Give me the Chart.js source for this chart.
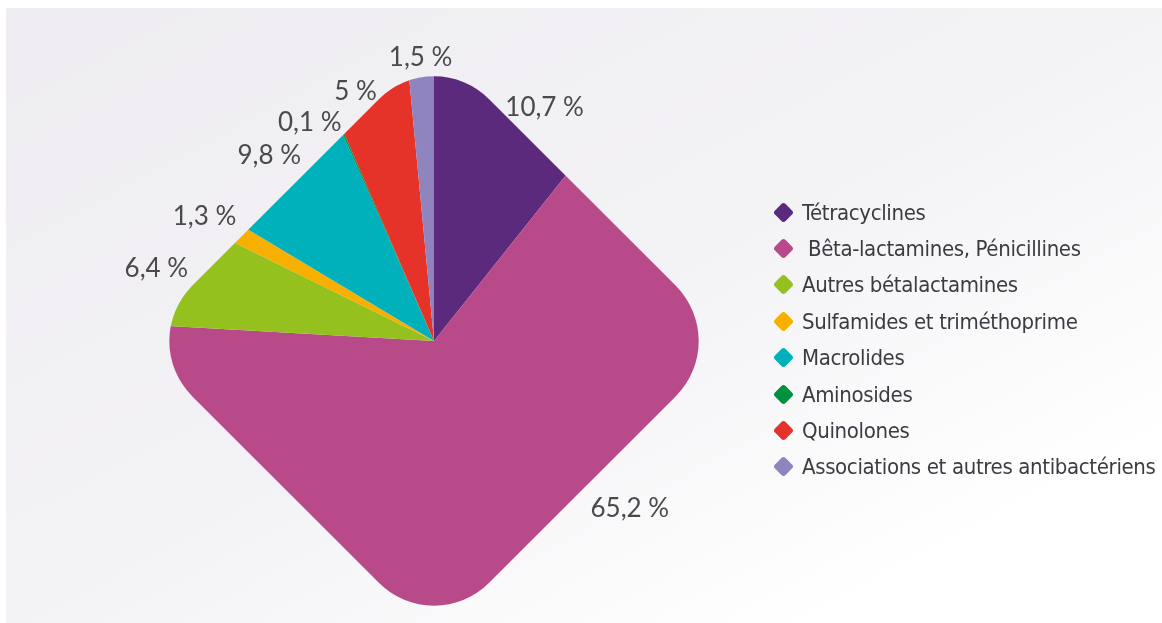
<!DOCTYPE html>
<html lang="fr">
<head>
<meta charset="utf-8">
<title>Antibiotiques par famille</title>
<script src="https://cdn.jsdelivr.net/npm/chart.js@4/dist/chart.umd.min.js"></script>
<style>
  html, body { margin: 0; padding: 0; background: #ffffff; }
  body { width: 1162px; height: 623px; position: relative; overflow: hidden; }
  #panel {
    position: absolute; left: 6px; top: 8px; width: 1156px; height: 615px;
    background: linear-gradient(to bottom right, #efedf1 0%, #f3f2f5 50%, #ffffff 85%);
  }
  #wrap { position: absolute; left: 0; top: 0; width: 868px; height: 623px; }
  #legend {
    position: absolute; left: 773px; top: 194px; margin: 0; padding: 0; list-style: none;
    font-family: "DejaVu Sans Condensed", "Liberation Sans", sans-serif;
    font-size: 22px; letter-spacing: -0.35px; color: #3c3b42;
  }
  #legend li { height: 36.4px; display: flex; align-items: center; white-space: pre; }
  #legend .mk {
    width: 15px; height: 15px; border-radius: 3px; transform: rotate(45deg);
    margin: 0 11px 0 3px; flex: none;
  }
</style>
</head>
<body>
<div id="panel"></div>
<div id="wrap"><canvas id="pie" width="868" height="623"></canvas></div>
<ul id="legend"></ul>
<script>
// categories and values
var categories = [
  "Tétracyclines",
  " Bêta-lactamines, Pénicillines",
  "Autres bétalactamines",
  "Sulfamides et triméthoprime",
  "Macrolides",
  "Aminosides",
  "Quinolones",
  "Associations et autres antibactériens"
]
var shares = [10.7, 65.2, 6.4, 1.3, 9.8, 0.1, 5, 1.5]
var colors = ["#5c2a7d", "#b94a89", "#95c11f", "#f8b000", "#00b1bb", "#00913e", "#e53329", "#8f84be"]

// rounded diamond path round the pie centre
function diamond(cx, cy, h, r) {
  var p = new Path2D()
  p.moveTo(cx - h / 2, cy - h / 2)
  p.arcTo(cx, cy - h, cx + h, cy, r)
  p.arcTo(cx + h, cy, cx, cy + h, r)
  p.arcTo(cx, cy + h, cx - h, cy, r)
  p.arcTo(cx - h, cy, cx, cy - h, r)
  p.closePath()
  return p
}

var diamondClip = {
  id: 'diamondClip',
  beforeDatasetsDraw: function(chart, args, opts) {
    var arc = chart.getDatasetMeta(0).data[0]
    chart.$shape = diamond(arc.x, arc.y, opts.half, opts.corner)
    chart.ctx.save()
    chart.ctx.clip(chart.$shape)
  },
  afterDatasetsDraw: function(chart, args, opts) {
    chart.ctx.restore()
    // percentage labels outside the shape
    var ctx = chart.ctx
    var meta = chart.getDatasetMeta(0)
    ctx.save()
    ctx.font = opts.fontSize + 'px Lato, "Open Sans", sans-serif'
    ctx.fillStyle = opts.color
    ctx.textAlign = 'center'
    ctx.textBaseline = 'alphabetic'
    meta.data.forEach(function(arc, i) {
      var a = (arc.startAngle + arc.endAngle) / 2 + (opts.nudge[i] || 0) * Math.PI / 180
      var c = Math.cos(a), s = Math.sin(a)
      var rb = 0
      while (rb < 400 && ctx.isPointInPath(chart.$shape, arc.x + rb * c, arc.y + rb * s)) rb++
      var txt = String(shares[i]).replace('.', ',') + ' %'
      var w = ctx.measureText(txt).width
      var hh = opts.fontSize * 0.72
      var d = rb + opts.gap + w / 2 * Math.abs(c) + hh / 2 * Math.abs(s)
      ctx.fillText(txt, arc.x + d * c, arc.y + d * s + hh / 2)
    })
    ctx.restore()
  }
}

var chart = new Chart(document.getElementById('pie').getContext('2d'), {
  type: 'pie',
  data: {
    labels: categories,
    datasets: [{
      data: shares,
      backgroundColor: colors,
      borderWidth: 0
    }]
  },
  options: {
    responsive: false,
    animation: false,
    layout: { padding: { top: 59 } },
    plugins: {
      legend: { display: false },
      tooltip: { enabled: false },
      diamondClip: {
        half: 297, corner: 78, gap: 10, fontSize: 26, color: '#4a4a4d',
        nudge: { 0: 6, 1: -25.5, 5: -6, 6: -3 }
      }
    }
  },
  plugins: [diamondClip]
})

// html legend built from the same arrays
var ul = document.getElementById('legend')
categories.forEach(function(name, i) {
  var li = document.createElement('li')
  var mk = document.createElement('span')
  mk.className = 'mk'
  mk.style.background = colors[i]
  li.appendChild(mk)
  li.appendChild(document.createTextNode(name))
  ul.appendChild(li)
})
</script>
</body>
</html>
